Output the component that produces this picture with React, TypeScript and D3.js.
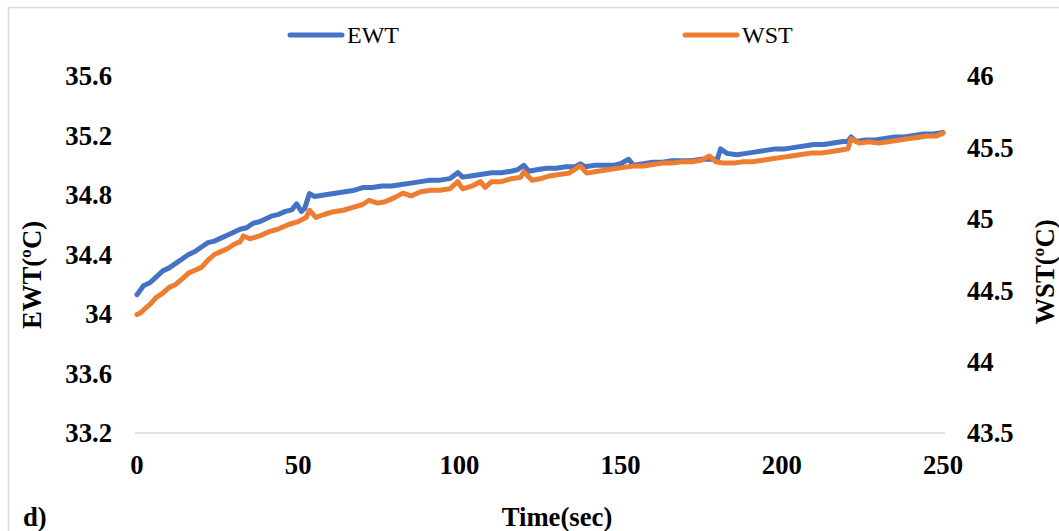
import React, { useEffect, useRef } from "react";
import * as d3 from "d3";

// time (sec) and readings taken off the figure
const ewtTime = [
  0, 1, 2, 4, 6, 8, 10, 12, 14, 16, 18, 20, 22, 24, 26, 28, 30, 32, 34, 36, 38, 40, 42, 44, 46, 48,
  49.5, 51, 52, 53.5, 55, 58, 61, 64, 67, 70, 73, 76, 79, 82, 85, 88, 91, 94, 97, 99.5, 101, 104,
  107, 110, 113, 116, 118, 120, 121.5, 124, 127, 130, 133, 136, 137.5, 139, 142, 145, 148, 150,
  152.5, 154, 157, 160, 163, 166, 169, 172, 175, 178, 180, 181, 183, 186, 189, 192, 195, 198, 201,
  204, 207, 210, 213, 216, 219, 220.5, 221.5, 223, 226, 229, 232, 235, 238, 241, 244, 247, 250,
];
const ewtValues = [
  34.13, 34.16, 34.19, 34.21, 34.25, 34.29, 34.31, 34.34, 34.37, 34.4, 34.42, 34.45, 34.48, 34.49,
  34.51, 34.53, 34.55, 34.57, 34.58, 34.61, 34.62, 34.64, 34.66, 34.67, 34.69, 34.7, 34.74, 34.69,
  34.71, 34.81, 34.79, 34.8, 34.81, 34.82, 34.83, 34.85, 34.85, 34.86, 34.86, 34.87, 34.88, 34.89,
  34.9, 34.9, 34.91, 34.95, 34.92, 34.93, 34.94, 34.95, 34.95, 34.96, 34.97, 35.0, 34.96, 34.97,
  34.98, 34.98, 34.99, 34.99, 35.01, 34.99, 35.0, 35.0, 35.0, 35.01, 35.04, 35.0, 35.01, 35.02,
  35.02, 35.03, 35.03, 35.03, 35.04, 35.04, 35.04, 35.11, 35.08, 35.07, 35.08, 35.09, 35.1, 35.11,
  35.11, 35.12, 35.13, 35.14, 35.14, 35.15, 35.16, 35.16, 35.19, 35.16, 35.17, 35.17, 35.18, 35.19,
  35.19, 35.2, 35.21, 35.21, 35.22,
];

const wstTime = [
  0, 1, 2, 4, 6, 8, 10, 12, 14, 16, 18, 20, 22, 24, 26, 28, 30, 32, 33, 35, 38, 41, 44, 47, 50,
  52.5, 53.5, 55.5, 58, 61, 64, 67, 70, 72, 74.5, 77, 80, 82.5, 85, 88, 91, 94, 97, 99.5, 101, 104,
  106.5, 108, 110, 113, 116, 119, 120, 122.5, 125, 128, 131, 134, 137.5, 139.5, 142, 145, 148, 151,
  154, 157, 160, 163, 166, 169, 172, 175, 177.5, 179.5, 182, 185, 188, 191, 194, 197, 200, 203, 206,
  209, 212, 215, 218, 220.5, 221.5, 224, 227, 230, 233, 236, 239, 242, 245, 248, 250,
];
const wstValues = [
  44.33, 44.34, 44.36, 44.4, 44.45, 44.48, 44.52, 44.54, 44.58, 44.62, 44.64, 44.66, 44.71, 44.75,
  44.77, 44.79, 44.82, 44.84, 44.88, 44.86, 44.88, 44.91, 44.93, 44.96, 44.98, 45.01, 45.06, 45.01,
  45.03, 45.05, 45.06, 45.08, 45.1, 45.13, 45.11, 45.12, 45.15, 45.18, 45.16, 45.19, 45.2, 45.2,
  45.21, 45.26, 45.21, 45.23, 45.26, 45.22, 45.26, 45.26, 45.28, 45.29, 45.33, 45.27, 45.28, 45.3,
  45.31, 45.32, 45.37, 45.32, 45.33, 45.34, 45.35, 45.36, 45.37, 45.37, 45.38, 45.39, 45.39, 45.4,
  45.4, 45.41, 45.44, 45.4, 45.39, 45.39, 45.4, 45.4, 45.41, 45.42, 45.43, 45.44, 45.45, 45.46,
  45.46, 45.47, 45.48, 45.49, 45.56, 45.53, 45.54, 45.53, 45.54, 45.55, 45.56, 45.57, 45.58, 45.58,
  45.6,
];

const xTicks = [0, 50, 100, 150, 200, 250];
const ewtTicks = [33.2, 33.6, 34, 34.4, 34.8, 35.2, 35.6];
const wstTicks = [43.5, 44, 44.5, 45, 45.5, 46];

const ewtColor = "#4472C4";
const wstColor = "#ED7D31";
const font = "'Liberation Serif', 'Times New Roman', serif";

export default function App() {
  const svgRef = useRef<SVGSVGElement | null>(null);

  useEffect(() => {
    if (!svgRef.current) return;
    const width = 1059;
    const height = 531;

    const svg = d3.select(svgRef.current);
    svg.selectAll("*").remove();
    svg.attr("width", width).attr("height", height);

    svg
      .append("rect")
      .attr("width", width)
      .attr("height", height)
      .attr("fill", "#ffffff");

    // chart border
    svg
      .append("rect")
      .attr("x", 8.5)
      .attr("y", 7.5)
      .attr("width", width + 20)
      .attr("height", height + 20)
      .attr("fill", "none")
      .attr("stroke", "#d9d9d9")
      .attr("stroke-width", 1.5);

    const x = d3.scaleLinear().domain([0, 250]).range([137, 943]);
    const yL = d3.scaleLinear().domain([33.2, 35.6]).range([433, 76]);
    const yR = d3.scaleLinear().domain([43.5, 46]).range([433, 76]);

    // base line
    svg
      .append("line")
      .attr("x1", x(0) - 2)
      .attr("x2", x(250) + 2)
      .attr("y1", yL(33.2))
      .attr("y2", yL(33.2))
      .attr("stroke", "#d9d9d9")
      .attr("stroke-width", 1.5);

    const tickStyle = (sel: any) =>
      sel
        .attr("font-family", font)
        .attr("font-weight", "bold")
        .attr("font-size", "26.7px")
        .attr("fill", "#000");

    svg
      .append("g")
      .selectAll("text")
      .data(ewtTicks)
      .join("text")
      .attr("x", 112)
      .attr("y", (d) => yL(d))
      .attr("dy", "0.35em")
      .attr("text-anchor", "end")
      .text((d) => String(d))
      .call(tickStyle);

    svg
      .append("g")
      .selectAll("text")
      .data(wstTicks)
      .join("text")
      .attr("x", 967)
      .attr("y", (d) => yR(d))
      .attr("dy", "0.35em")
      .attr("text-anchor", "start")
      .text((d) => String(d))
      .call(tickStyle);

    svg
      .append("g")
      .selectAll("text")
      .data(xTicks)
      .join("text")
      .attr("x", (d) => x(d))
      .attr("y", 474)
      .attr("text-anchor", "middle")
      .text((d) => String(d))
      .call(tickStyle);

    // axis titles
    svg
      .append("text")
      .attr("transform", "translate(41,275) rotate(-90)")
      .attr("text-anchor", "middle")
      .text("EWT(ºC)")
      .call(tickStyle);

    svg
      .append("text")
      .attr("transform", "translate(1054,272) rotate(-90)")
      .attr("text-anchor", "middle")
      .text("WST(ºC)")
      .call(tickStyle);

    svg
      .append("text")
      .attr("x", 557)
      .attr("y", 526)
      .attr("text-anchor", "middle")
      .text("Time(sec)")
      .call(tickStyle);

    svg
      .append("text")
      .attr("x", 23)
      .attr("y", 526)
      .text("d)")
      .call(tickStyle);

    // series
    const ewt = ewtTime.map((t, i) => [t, ewtValues[i]] as [number, number]);
    const wst = wstTime.map((t, i) => [t, wstValues[i]] as [number, number]);

    const lineL = d3
      .line<[number, number]>()
      .x((d) => x(d[0]))
      .y((d) => yL(d[1]));
    const lineR = d3
      .line<[number, number]>()
      .x((d) => x(d[0]))
      .y((d) => yR(d[1]));

    svg
      .append("path")
      .datum(ewt)
      .attr("fill", "none")
      .attr("stroke", ewtColor)
      .attr("stroke-width", 5)
      .attr("stroke-linejoin", "round")
      .attr("stroke-linecap", "round")
      .attr("d", lineL);

    svg
      .append("path")
      .datum(wst)
      .attr("fill", "none")
      .attr("stroke", wstColor)
      .attr("stroke-width", 5)
      .attr("stroke-linejoin", "round")
      .attr("stroke-linecap", "round")
      .attr("d", lineR);

    // legend
    const legend = [
      { name: "EWT", color: ewtColor, x0: 290 },
      { name: "WST", color: wstColor, x0: 685 },
    ];
    const lg = svg
      .append("g")
      .selectAll("g")
      .data(legend)
      .join("g")
      .attr("transform", (d) => `translate(${d.x0},35)`);
    lg.append("line")
      .attr("x1", 0)
      .attr("x2", 52)
      .attr("stroke", (d) => d.color)
      .attr("stroke-width", 5)
      .attr("stroke-linecap", "round");
    lg.append("text")
      .attr("x", 57)
      .attr("y", 8)
      .attr("font-family", font)
      .attr("font-size", "24px")
      .attr("fill", "#000")
      .text((d) => d.name);
  }, []);

  return (
    <svg
      ref={svgRef}
      style={{ position: "absolute", left: 0, top: 0, display: "block" }}
    />
  );
}
